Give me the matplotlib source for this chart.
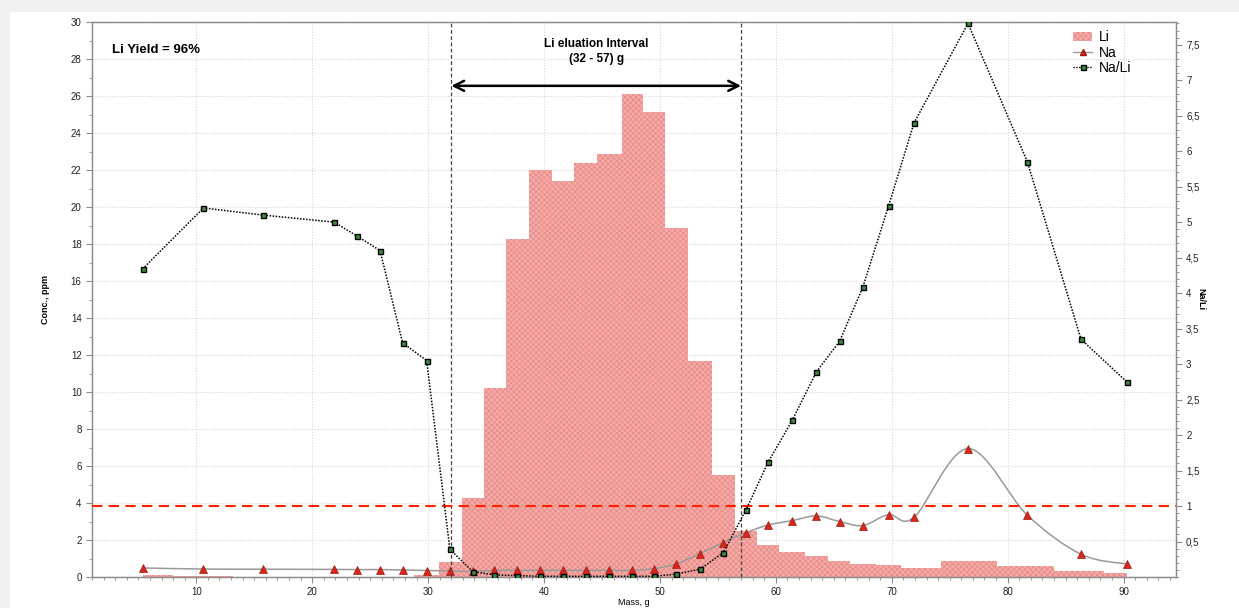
import matplotlib
matplotlib.use("Agg")
import matplotlib.pyplot as plt
from matplotlib.path import Path
from matplotlib.patches import PathPatch, Rectangle, Patch
from matplotlib.lines import Line2D
from matplotlib.ticker import MultipleLocator, FixedLocator, FuncFormatter

plt.rcParams['font.family'] = ['Liberation Sans', 'DejaVu Sans']
plt.rcParams['hatch.linewidth'] = 0.6

# Li histogram (fraction edges, g) and concentration (ppm)
li_lo = [5.4, 8.0, 28.8, 30.9, 32.9, 34.8, 36.7, 38.7, 40.65, 42.6, 44.6, 46.7, 48.5, 50.4,
         52.4, 54.45, 56.46, 58.4, 60.3, 62.5, 64.5, 66.4, 68.6, 70.8, 74.25, 79.1, 84.0, 88.3]
li_hi = [8.0, 13.2, 30.9, 32.9, 34.8, 36.7, 38.7, 40.65, 42.6, 44.6, 46.7, 48.5, 50.4, 52.4,
         54.45, 56.46, 58.4, 60.3, 62.5, 64.5, 66.4, 68.6, 70.8, 74.25, 79.1, 84.0, 88.3, 90.3]
li_conc = [0.1, 0.06, 0.1, 0.81, 4.27, 10.24, 18.26, 22.0, 21.42, 22.36, 22.84, 26.09, 25.12, 18.84,
           11.7, 5.5, 2.49, 1.71, 1.35, 1.14, 0.89, 0.69, 0.63, 0.49, 0.89, 0.58, 0.35, 0.22]

# sample points
mass = [5.36, 10.62, 15.73, 21.9, 23.9, 25.85, 27.8, 29.87, 31.88, 33.85, 35.7, 37.7, 39.65,
        41.63, 43.65, 45.6, 47.58, 49.45, 51.37, 53.44, 55.46, 57.44, 59.34, 61.42, 63.5, 65.5,
        67.5, 69.73, 71.93, 76.58, 81.7, 86.33, 90.28]
na = [0.49, 0.43, 0.42, 0.41, 0.40, 0.40, 0.38, 0.35, 0.33, 0.30, 0.36, 0.36, 0.36, 0.36, 0.36,
      0.36, 0.36, 0.45, 0.70, 1.26, 1.86, 2.40, 2.81, 3.05, 3.30, 3.00, 2.78, 3.37, 3.23, 6.94,
      3.34, 1.23, 0.70]
na_li = [4.34, 5.20, 5.10, 5.00, 4.80, 4.60, 3.30, 3.05, 0.39, 0.076, 0.03, 0.02, 0.01, 0.01,
         0.01, 0.01, 0.01, 0.01, 0.04, 0.11, 0.34, 0.95, 1.62, 2.21, 2.89, 3.32, 4.08, 5.23, 6.40,
         7.80, 5.85, 3.35, 2.75]

interval = (32, 57)

fig = plt.figure(figsize=(12.39, 6.08), dpi=100, facecolor='#f0f0f0')
fig.patches.append(Rectangle((10/1239, 0), 1, 1 - 12/608, transform=fig.transFigure,
                             facecolor='white', edgecolor='none', zorder=-10))
ax = fig.add_axes([92/1239, 1 - 577/608, 1083.7/1239, 555/608])
ax2 = ax.twinx()

# Li bars
widths = [h - l for l, h in zip(li_lo, li_hi)]
ax.bar(li_lo, li_conc, width=widths, align='edge', color='#f5aca8', edgecolor='#e98a86',
       linewidth=0, hatch='xxxxxx', zorder=2)

# Na smooth curve (Catmull-Rom drawn as bezier segments)
pts = list(zip(mass, na))
verts = [pts[0]]
codes = [Path.MOVETO]
for i in range(len(pts) - 1):
    p0 = pts[max(i - 1, 0)]
    p1 = pts[i]
    p2 = pts[i + 1]
    p3 = pts[min(i + 2, len(pts) - 1)]
    c1 = (p1[0] + (p2[0] - p0[0]) / 6, p1[1] + (p2[1] - p0[1]) / 6)
    c2 = (p2[0] - (p3[0] - p1[0]) / 6, p2[1] - (p3[1] - p1[1]) / 6)
    verts += [c1, c2, p2]
    codes += [Path.CURVE4] * 3
ax.add_patch(PathPatch(Path(verts, codes), facecolor='none', edgecolor='#999999', lw=1.1, zorder=3))
ax.plot(mass, na, linestyle='none', marker='^', markersize=5.5, color='#d8261c',
        markeredgecolor='#a01810', markeredgewidth=0.5, zorder=4)

# Na/Li on right axis
ax2.plot(mass, na_li, linestyle=(0, (1, 1)), color='black', lw=1.1, marker='s', markersize=3.6,
         markerfacecolor='#3b8c3b', markeredgecolor='black', markeredgewidth=1.0, zorder=5)
ax2.axhline(1.0, color='#ff2200', lw=1.5, linestyle=(0, (5, 3)), zorder=4)

# interval markers
for xv in interval:
    ax2.axvline(xv, color='#444444', lw=0.9, linestyle=(0, (3, 2)), zorder=3)
ax.annotate('', xy=(interval[0], 26.55), xytext=(interval[1], 26.55),
            arrowprops=dict(arrowstyle='<->', lw=1.8, color='black', mutation_scale=18,
                            shrinkA=0, shrinkB=0), zorder=6)
ax.text(sum(interval) / 2, 28.4, 'Li eluation Interval\n(32 - 57) g', ha='center', va='center',
        fontsize=8.5, fontweight='bold', linespacing=1.3)
ax.text(2.7, 28.5, 'Li Yield = 96%', ha='left', va='center', fontsize=9.5, fontweight='bold')

# axes
ax.set_xlim(1, 94.5)
ax.set_ylim(0, 30)
ax2.set_ylim(0, 7.82)
ax.xaxis.set_major_locator(MultipleLocator(10))
ax.xaxis.set_minor_locator(MultipleLocator(1))
ax.yaxis.set_major_locator(MultipleLocator(2))
ax.yaxis.set_minor_locator(MultipleLocator(1))
ax2.yaxis.set_major_locator(FixedLocator([0.5 * k for k in range(1, 16)]))
ax2.yaxis.set_minor_locator(MultipleLocator(0.1))
ax2.yaxis.set_major_formatter(FuncFormatter(lambda v, p: ('%g' % v).replace('.', ',')))

for a in (ax, ax2):
    for s in a.spines.values():
        s.set_color('#8c8c8c')
        s.set_linewidth(0.9)
    a.tick_params(which='both', colors='#8c8c8c', labelcolor='#222222', labelsize=7, direction='out')
    a.tick_params(which='major', length=4)
    a.tick_params(which='minor', length=2.5)

ax.grid(True, which='major', color='#d8d8d8', linestyle=(0, (1, 1.5)), lw=0.8)
ax.set_axisbelow(True)

ax.set_xlabel('Mass, g', fontsize=6.5)
ax.set_ylabel('Conc., ppm', fontsize=6.5, fontweight='bold')
ax2.set_ylabel('Na/Li', fontsize=6.5, fontweight='bold', rotation=270)
ax.yaxis.set_label_coords(-0.039, 0.5)
ax2.yaxis.set_label_coords(1.027, 0.5)
ax.xaxis.set_label_coords(0.5, -0.038)

handles = [Patch(facecolor='#f5aca8', edgecolor='#e98a86', hatch='xxxxxx', linewidth=0),
           Line2D([], [], color='#9a9a9a', lw=1, marker='^', markersize=5,
                  markerfacecolor='#d8261c', markeredgecolor='#a01810'),
           Line2D([], [], color='black', lw=1, linestyle=(0, (1, 1)), marker='s', markersize=3.6,
                  markerfacecolor='#3b8c3b', markeredgecolor='black')]
leg = ax2.legend(handles, ['Li', 'Na', 'Na/Li'], loc='upper left', bbox_to_anchor=(0.9, 0.995),
                 frameon=False, fontsize=10, handlelength=1.4, handletextpad=0.5,
                 labelspacing=0.1, borderaxespad=0)

fig.savefig('out.png', dpi=100, facecolor=fig.get_facecolor())
